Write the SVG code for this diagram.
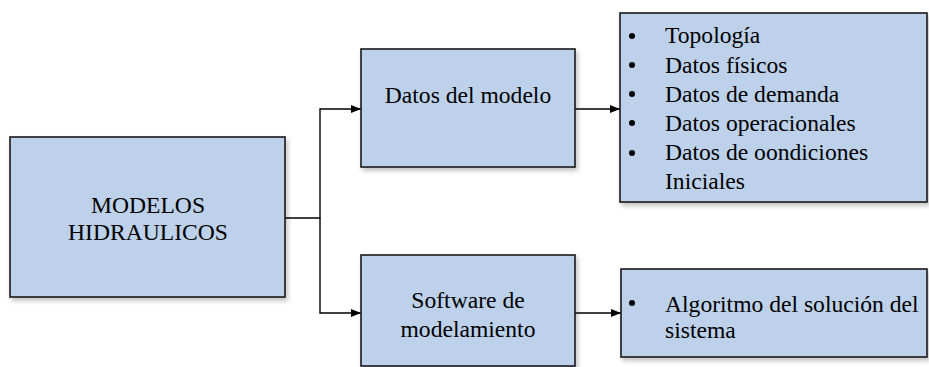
<svg xmlns="http://www.w3.org/2000/svg" width="929" height="367" viewBox="0 0 929 367">
<defs>
<filter id="sh" x="-10%" y="-10%" width="130%" height="130%">
<feGaussianBlur in="SourceAlpha" stdDeviation="2.5"/>
<feOffset dx="2" dy="3" result="b"/>
<feComponentTransfer><feFuncA type="linear" slope="0.25"/></feComponentTransfer>
<feMerge><feMergeNode/><feMergeNode in="SourceGraphic"/></feMerge>
</filter>
<marker id="arr" markerWidth="10" markerHeight="10" refX="10" refY="5" orient="auto" markerUnits="userSpaceOnUse">
<path d="M0,1 L10,5 L0,9 Z" fill="#000"/>
</marker>
</defs>
<style>
.box{fill:#BDD1EA;stroke:#1a1a1a;stroke-width:1.6;filter:url(#sh)}
.t{font-family:'Liberation Serif','Times New Roman',serif;font-size:23.6px;fill:#000}
.c{text-anchor:middle}
.ln{fill:none;stroke:#000;stroke-width:1.4}
.b{fill:#000}
</style>
<rect width="929" height="367" fill="#fff"/>
<g id="connectors">
<polyline class="ln" points="285,218 320,218 320,109 361,109" marker-end="url(#arr)"/>
<polyline class="ln" points="320,218 320,313 361,313" marker-end="url(#arr)"/>
<line class="ln" x1="575" y1="109" x2="620" y2="109" marker-end="url(#arr)"/>
<line class="ln" x1="575" y1="313" x2="621" y2="313" marker-end="url(#arr)"/>
</g>
<g id="modelos">
<rect class="box" x="10" y="137" width="275" height="160"/>
<text class="t c" x="148" y="213">MODELOS</text>
<text class="t c" x="148" y="240">HIDRAULICOS</text>
</g>
<g id="datos">
<rect class="box" x="361" y="49" width="214" height="118"/>
<text class="t c" x="468" y="103">Datos del modelo</text>
</g>
<g id="datos-lista">
<rect class="box" x="620" y="13" width="307" height="189"/>
<circle class="b" cx="632" cy="36" r="3"/>
<circle class="b" cx="632" cy="65" r="3"/>
<circle class="b" cx="632" cy="94" r="3"/>
<circle class="b" cx="632" cy="123" r="3"/>
<circle class="b" cx="632" cy="153" r="3"/>
<text class="t" x="665" y="43">Topología</text>
<text class="t" x="665" y="73">Datos físicos</text>
<text class="t" x="665" y="102">Datos de demanda</text>
<text class="t" x="665" y="131">Datos operacionales</text>
<text class="t" x="665" y="160">Datos de oondiciones</text>
<text class="t" x="665" y="189">Iniciales</text>
</g>
<g id="software">
<rect class="box" x="361" y="255" width="214" height="111"/>
<text class="t c" x="468" y="308">Software de</text>
<text class="t c" x="468" y="337">modelamiento</text>
</g>
<g id="algoritmo">
<rect class="box" x="621" y="269" width="306" height="88"/>
<circle class="b" cx="632" cy="303" r="3"/>
<text class="t" x="665" y="312">Algoritmo del solución del</text>
<text class="t" x="665" y="338">sistema</text>
</g>
</svg>
